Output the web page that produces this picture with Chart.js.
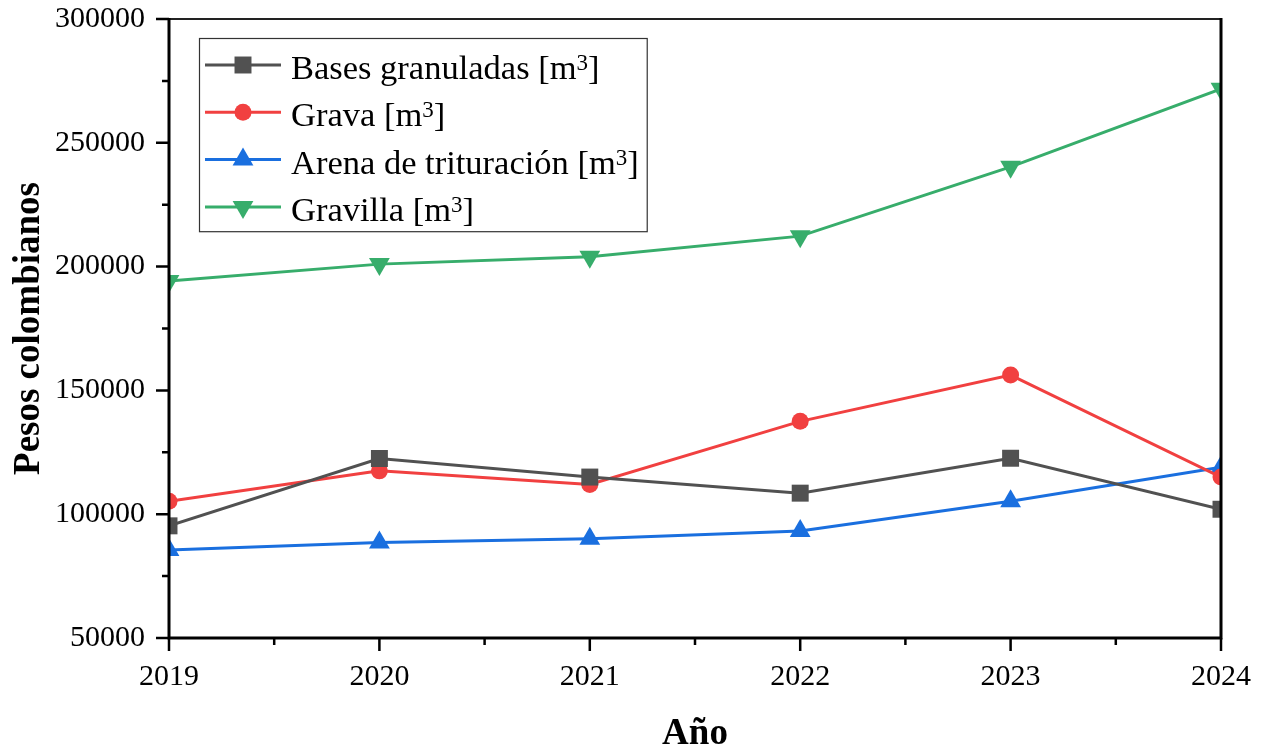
<!DOCTYPE html>
<html>
<head>
<meta charset="utf-8">
<title>Pesos colombianos por año</title>
<script src="https://cdn.jsdelivr.net/npm/chart.js@4.4.1/dist/chart.umd.min.js"></script>
<style>
	html, body { margin: 0; padding: 0; background: #fff; }
	#chart { display: block; }
</style>
</head>
<body>
<canvas id="chart" width="1263" height="751"></canvas>
<script>
'use strict';

/*================ Data ================*/

var years = ['2019', '2020', '2021', '2022', '2023', '2024'];
var basesGranuladas = [95300, 122500, 115000, 108500, 122600, 102000];
var grava = [105200, 117500, 112000, 137500, 156200, 115000];
var arenaTrituracion = [85500, 88600, 90100, 93200, 105200, 119000];
var gravilla = [194200, 201000, 204000, 212300, 240300, 271800];

var yMajorTicks = [50000, 100000, 150000, 200000, 250000, 300000];
var yMinorTicks = [75000, 125000, 175000, 225000, 275000];

var seriesLabels = ['Bases granuladas [m³]', 'Grava [m³]', 'Arena de trituración [m³]', 'Gravilla [m³]'];
var seriesColors = ['#515151', '#F14040', '#1A6FDF', '#37AD6B'];

var serifFont = '"Liberation Serif", "Times New Roman", serif';

// Draws a marker the same way the chart does
function drawMarker(ctx, ds, x, y) {
	Chart.helpers.drawPoint(ctx, {
		pointStyle: ds.pointStyle,
		radius: ds.pointRadius,
		rotation: ds.pointRotation || 0,
		borderWidth: 0
	}, x, y);
}

/*================ Plugins ================*/

// Outward major / minor ticks and the axis frame
var axisFramePlugin = {
	id: 'axisFrame',
	afterDraw: function(chart) {
		var ctx = chart.ctx;
		var area = chart.chartArea;
		var xScale = chart.scales.x;
		var yScale = chart.scales.y;
		var i;

		ctx.save();
		ctx.strokeStyle = '#000';
		ctx.lineWidth = 2.5;
		ctx.beginPath();
		yMajorTicks.forEach(function(v) {
			var py = yScale.getPixelForValue(v);
			ctx.moveTo(area.left - 13, py);
			ctx.lineTo(area.left, py);
		});
		yMinorTicks.forEach(function(v) {
			var py = yScale.getPixelForValue(v);
			ctx.moveTo(area.left - 7, py);
			ctx.lineTo(area.left, py);
		});
		for (i = 0; i < years.length; i++) {
			var px = xScale.getPixelForValue(i);
			ctx.moveTo(px, area.bottom);
			ctx.lineTo(px, area.bottom + 13);
			if (i < years.length - 1) {
				var pm = xScale.getPixelForValue(i + 0.5);
				ctx.moveTo(pm, area.bottom);
				ctx.lineTo(pm, area.bottom + 7);
			}
		}
		ctx.stroke();

		// top edge is thinner than the other three
		ctx.lineWidth = 2;
		ctx.strokeStyle = '#222';
		ctx.beginPath();
		ctx.moveTo(area.left, area.top);
		ctx.lineTo(area.right, area.top);
		ctx.stroke();

		ctx.lineWidth = 3;
		ctx.strokeStyle = '#000';
		ctx.beginPath();
		ctx.moveTo(area.left, area.top - 1);
		ctx.lineTo(area.left, area.bottom);
		ctx.lineTo(area.right, area.bottom);
		ctx.lineTo(area.right, area.top - 1);
		ctx.stroke();
		ctx.restore();
	}
};

// Boxed legend inside the plot, with a raised "3" for m³
var boxLegendPlugin = {
	id: 'boxLegend',
	afterDraw: function(chart) {
		var ctx = chart.ctx;
		var area = chart.chartArea;
		var datasets = chart.data.datasets;
		var left = area.left + 30;
		var top = area.top + 19;
		var rowH = 47.3;
		var textX = left + 92;
		var mainFont = '34.5px ' + serifFont;
		var supFont = '23px ' + serifFont;
		var maxW = 0;

		ctx.save();
		var parts = datasets.map(function(ds) {
			var p = ds.label.split('³');
			ctx.font = mainFont;
			var w1 = ctx.measureText(p[0]).width;
			var w3 = ctx.measureText(p[1]).width;
			ctx.font = supFont;
			var w2 = ctx.measureText('3').width;
			maxW = Math.max(maxW, w1 + w2 + w3);
			return { before: p[0], after: p[1], w1: w1, w2: w2 };
		});

		var right = textX + maxW + 8;
		var bottom = top + rowH * datasets.length + 4;
		ctx.fillStyle = '#fff';
		ctx.fillRect(left, top, right - left, bottom - top);
		ctx.strokeStyle = '#333';
		ctx.lineWidth = 1.2;
		ctx.strokeRect(left + 0.5, top + 0.5, right - left, bottom - top);

		datasets.forEach(function(ds, i) {
			var cy = top + 27 + i * rowH;
			ctx.strokeStyle = ds.borderColor;
			ctx.lineWidth = 3;
			ctx.beginPath();
			ctx.moveTo(left + 6, cy);
			ctx.lineTo(left + 82, cy);
			ctx.stroke();
			ctx.fillStyle = ds.backgroundColor;
			drawMarker(ctx, ds, left + 44, cy);

			var p = parts[i];
			ctx.fillStyle = '#000';
			ctx.textBaseline = 'alphabetic';
			ctx.textAlign = 'left';
			ctx.font = mainFont;
			ctx.fillText(p.before, textX, cy + 14);
			ctx.font = supFont;
			ctx.fillText('3', textX + p.w1, cy + 5);
			ctx.font = mainFont;
			ctx.fillText(p.after, textX + p.w1 + p.w2, cy + 14);
		});
		ctx.restore();
	}
};

/*================ Chart ================*/

function makeDataset(index, values, pointStyle, radius, rotation) {
	return {
		label: seriesLabels[index],
		data: values,
		borderColor: seriesColors[index],
		backgroundColor: seriesColors[index],
		borderWidth: 3,
		pointStyle: pointStyle,
		pointRadius: radius,
		pointRotation: rotation,
		pointBorderWidth: 0,
		pointBackgroundColor: seriesColors[index],
		tension: 0,
		clip: 0
	};
}

var ctx = document.getElementById('chart');
var chart = new Chart(ctx, {
	type: 'line',
	data: {
		labels: years,
		datasets: [
			makeDataset(0, basesGranuladas, 'rect', 12, 0),
			makeDataset(1, grava, 'circle', 8.5, 0),
			makeDataset(2, arenaTrituracion, 'triangle', 12, 0),
			makeDataset(3, gravilla, 'triangle', 12, 180)
		]
	},
	options: {
		responsive: false,
		animation: false,
		events: [],
		layout: {
			padding: { top: 19, right: 42, bottom: 0, left: 0 }
		},
		plugins: {
			legend: { display: false },
			tooltip: { enabled: false }
		},
		scales: {
			x: {
				type: 'category',
				offset: false,
				grid: { display: false, drawTicks: false },
				border: { display: false },
				ticks: {
					color: '#000',
					padding: 21,
					maxRotation: 0,
					autoSkip: false,
					font: { family: serifFont, size: 30 }
				},
				title: {
					display: true,
					text: 'Año',
					color: '#000',
					padding: { top: 0, bottom: -2 },
					font: { family: serifFont, size: 37, weight: 'bold', lineHeight: 1 }
				},
				afterFit: function(scale) {
					scale.height = 113;
					scale.paddingLeft = 0;
					scale.paddingRight = 0;
				}
			},
			y: {
				min: 50000,
				max: 300000,
				grid: { display: false, drawTicks: false },
				border: { display: false },
				afterBuildTicks: function(scale) {
					scale.ticks = yMajorTicks.map(function(v) {
						return { value: v };
					});
				},
				ticks: {
					color: '#000',
					padding: 24,
					font: { family: serifFont, size: 30 },
					callback: function(value) {
						return String(value);
					}
				},
				title: {
					display: true,
					text: 'Pesos colombianos',
					color: '#000',
					padding: { top: 10.5, bottom: 0 },
					font: { family: serifFont, size: 37, weight: 'bold', lineHeight: 1 }
				},
				afterFit: function(scale) {
					scale.width = 169;
					scale.paddingTop = 0;
					scale.paddingBottom = 0;
				}
			}
		}
	},
	plugins: [ axisFramePlugin, boxLegendPlugin ]
});
</script>
</body>
</html>
